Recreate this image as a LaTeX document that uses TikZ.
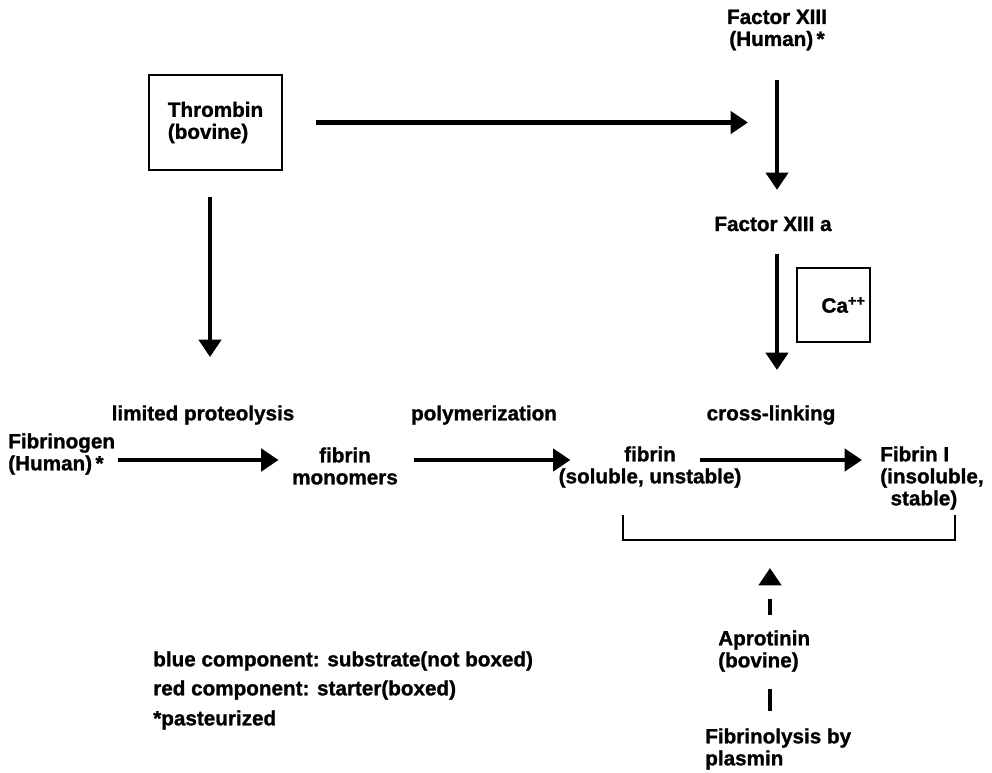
\documentclass[tikz,border=0pt]{standalone}
\usepackage{fontspec}
\setmainfont[BoldFeatures={FakeBold=1.2}]{Liberation Sans}
\usetikzlibrary{arrows.meta}
\newcommand{\lbl}{\fontsize{15.5}{16.5}\selectfont\bfseries}

\begin{document}
\begin{tikzpicture}[x=75pt, y=75pt,
    every node/.style={font=\lbl, inner sep=0pt, align=center},
    box/.style={draw, line width=1.1pt},
    arr/.style={line width=3.2pt, -{Triangle[length=13pt, width=16.5pt]}}]
    \useasboundingbox (0, 0) rectangle (9.92, -7.72);
    % starters (boxed)
    \node[box, align=left, minimum width=99.75pt, minimum height=71.25pt]
      (thr) at (2.155, -1.225) {Thrombin\\(bovine)};
    \node[box, minimum width=54.75pt, minimum height=55.5pt, text width=48pt,
      align=right] (ca) at (8.335, -3.05) {Ca\textsuperscript{++}};
    % substrates and products
    \node (f13) at (7.77, -0.30) {Factor XIII\\(Human)\,*};
    \node (f13a) at (7.73, -2.24) {Factor XIII a};
    \node[anchor=west, align=left] (fgen) at (0.08, -4.54) {Fibrinogen\\(Human)\,*};
    \node (mono) at (3.45, -4.66) {fibrin\\monomers};
    \node (fib) at (6.50, -4.67) {fibrin\\(soluble, unstable)};
    \node[anchor=west, align=left] (fibI) at (8.80, -4.78)
      {Fibrin I\\(insoluble,\\\hspace{0.5em}stable)};
    \node[anchor=west, align=left] (apro) at (7.18, -6.51) {Aprotinin\\(bovine)};
    \node[anchor=west, align=left] (plas) at (7.05, -7.49) {Fibrinolysis by\\plasmin};
    % step labels
    \node (lp) at (2.03, -4.15) {limited proteolysis};
    \node (poly) at (4.84, -4.15) {polymerization};
    \node (xl) at (7.71, -4.15) {cross-linking};
    % legend
    \node[anchor=west] (leg1) at (1.53, -6.61) {blue component: substrate(not boxed)};
    \node[anchor=west] (leg2) at (1.53, -6.90) {red component: starter(boxed)};
    \node[anchor=west] (leg3) at (1.53, -7.20) {*pasteurized};
    % free ends
    \coordinate (f13in) at (7.48, -1.225);
    \coordinate (lpin) at (2.10, -3.57);
    \coordinate (xlin) at (7.77, -3.70);
    \coordinate (row) at (0, -4.60);
    \coordinate (bl) at (6.23, -5.15);
    \coordinate (br) at (9.55, -5.15);
    \coordinate (bb) at (7.70, -5.40);
    % arrows
    \draw[arr, shorten <=25pt] (thr) -- (f13in);
    \draw[arr, shorten <=22pt, shorten >=20pt] (f13.south) -- (f13.south |- f13a.north);
    \draw[arr, shorten <=17pt] (f13a.south -| xlin) -- (xlin);
    \draw[arr, shorten <=20pt] (thr.south -| lpin) -- (lpin);
    \draw[arr, shorten <=2pt, shorten >=10pt] (fgen.east |- row) -- (mono.west |- row);
    \draw[arr, shorten <=12pt] (mono.east |- row) -- ([xshift=9pt]fib.west |- row);
    \draw[arr, shorten >=13.5pt] ([xshift=-31pt]fib.east |- row) -- (fibI.west |- row);
    % bracket and inhibitor
    \draw[line width=1.1pt] (bl) |- (bb) -| (br);
    \draw[arr, dash pattern=on 12pt off 20pt, shorten <=11pt, shorten >=21pt]
      (apro.north -| bb) -- (bb);
    \draw[line width=3.2pt, shorten <=12.75pt, shorten >=12.75pt]
      (plas.north -| bb) -- (apro.south -| bb);
\end{tikzpicture}
\end{document}
